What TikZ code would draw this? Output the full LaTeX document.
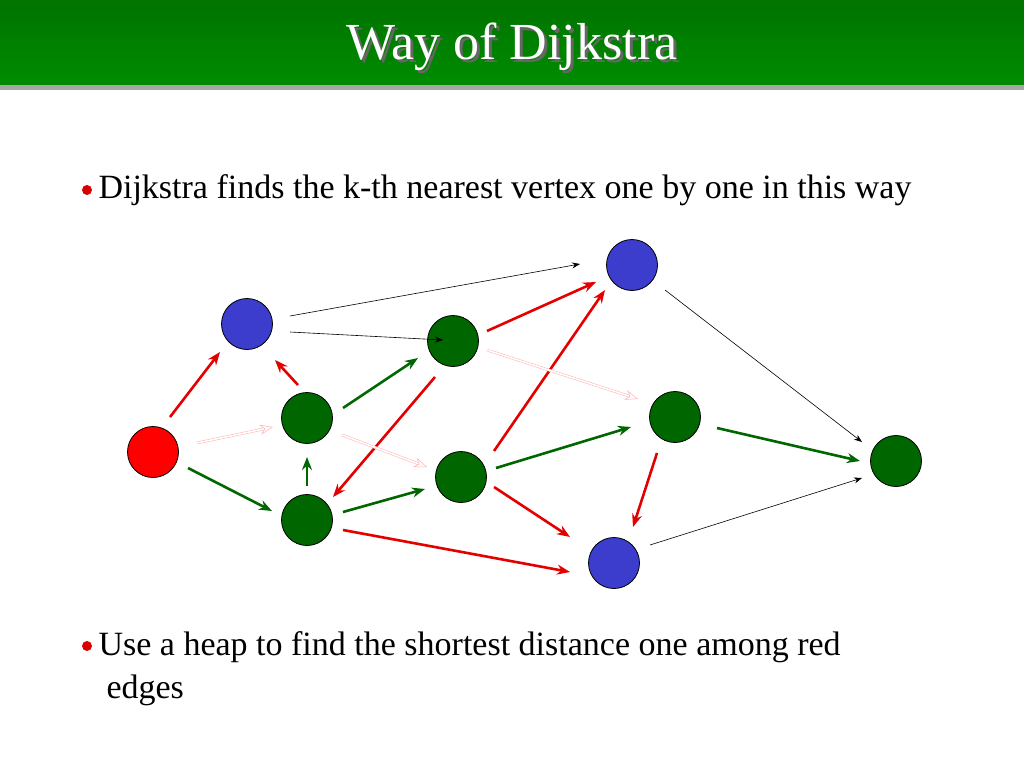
\documentclass[tikz,border=0pt]{standalone}
\usepackage{fontspec}
\setmainfont{Liberation Serif}
\usetikzlibrary{arrows.meta,shadows}
\definecolor{vblue}{RGB}{60,60,205}
\begin{document}
\begin{tikzpicture}[x=1pt,y=-1pt,
  vtx/.style={circle,draw=black,line width=0.8pt,minimum size=51pt,inner sep=0pt},
  rd/.style={vtx,fill=red},
  bl/.style={vtx,fill=vblue},
  gr/.style={vtx,fill=green!40!black},
  blk/.style={-{Stealth[length=8pt,width=6pt]},line width=0.6pt},
  redE/.style={-{Stealth[length=13pt,width=10pt]},line width=2.6pt,red!90!black},
  grE/.style={-{Stealth[length=13pt,width=10pt]},line width=2.6pt,green!40!black},
  pale/.style={-{Stealth[length=13pt,width=10pt,open]},draw=red!30,double=white,double distance=1.6pt,line width=0.5pt},
  big/.style={font=\fontsize{34}{43}\selectfont}]
\useasboundingbox (0,0) rectangle (1024,768);
\fill[white] (0,0) rectangle (1024,768);
\shade[top color=green!45!black,bottom color=green!55!black] (0,0) rectangle (1024,85);
\fill[gray!70] (0,85) rectangle (1024,90);
\node[text=black!60,font=\fontsize{52}{58}\selectfont] (tsh) at (515,50) {Way of Dijkstra};
\node[text=white,font=\fontsize{52}{58}\selectfont] (title) at (512,47) {Way of Dijkstra};
\fill[red!85!black] (87,190) circle (5pt);
\node[anchor=west,big] (b1) at (95,190) {Dijkstra finds the k-th nearest vertex one by one in this way};
\fill[red!85!black] (87,646) circle (5pt);
\node[anchor=north west,align=left,big] (b2) at (95,628) {Use a heap to find the shortest distance one among red\\\hspace{8pt}edges};
\node[rd] (r) at (153,452) {};
\node[bl] (b1v) at (247,324) {};
\node[bl] (b2v) at (632,265) {};
\node[bl] (b3v) at (614,563) {};
\node[gr] (ga) at (453,341) {};
\node[gr] (gb) at (307,418) {};
\node[gr] (gc) at (307,520) {};
\node[gr] (gd) at (461,477) {};
\node[gr] (ge) at (675,417) {};
\node[gr] (gf) at (896,461) {};
\coordinate (k1) at (290,316); \coordinate (k2) at (580,264);
\coordinate (k3) at (290,332); \coordinate (k4) at (443,340);
\coordinate (k5) at (665,290); \coordinate (k6) at (862,442);
\coordinate (k7) at (650,545); \coordinate (k8) at (862,478);
\draw[blk] (k1) -- (k2); \draw[blk] (k3) -- (k4);
\draw[blk] (k5) -- (k6); \draw[blk] (k7) -- (k8);
\coordinate (a1) at (170,417); \coordinate (a2) at (220,352);
\coordinate (a3) at (298,385); \coordinate (a4) at (275,360);
\coordinate (a5) at (487,331); \coordinate (a6) at (596,282);
\coordinate (a7) at (435,377); \coordinate (a8) at (333,497);
\coordinate (a9) at (494,451); \coordinate (a10) at (605,290);
\coordinate (a11) at (494,487); \coordinate (a12) at (570,537);
\coordinate (a13) at (657,453); \coordinate (a14) at (633,527);
\coordinate (a15) at (343,530); \coordinate (a16) at (570,572);
\draw[redE] (a1) -- (a2); \draw[redE] (a3) -- (a4); \draw[redE] (a5) -- (a6);
\draw[redE] (a7) -- (a8); \draw[redE] (a9) -- (a10); \draw[redE] (a11) -- (a12);
\draw[redE] (a13) -- (a14); \draw[redE] (a15) -- (a16);
\coordinate (g1) at (188,468); \coordinate (g2) at (272,511);
\coordinate (g3) at (307,486); \coordinate (g4) at (307,457);
\coordinate (g5) at (343,408); \coordinate (g6) at (418,358);
\coordinate (g7) at (343,512); \coordinate (g8) at (425,489);
\coordinate (g9) at (496,468); \coordinate (g10) at (631,427);
\coordinate (g11) at (717,428); \coordinate (g12) at (860,461);
\draw[grE] (g1) -- (g2); \draw[grE] (g3) -- (g4); \draw[grE] (g5) -- (g6);
\draw[grE] (g7) -- (g8); \draw[grE] (g9) -- (g10); \draw[grE] (g11) -- (g12);
\coordinate (p1) at (197,443); \coordinate (p2) at (273,427);
\coordinate (p3) at (342,435); \coordinate (p4) at (427,467);
\coordinate (p5) at (487,350); \coordinate (p6) at (638,399);
\draw[pale] (p1) -- (p2); \draw[pale] (p3) -- (p4); \draw[pale] (p5) -- (p6);
\end{tikzpicture}
\end{document}
